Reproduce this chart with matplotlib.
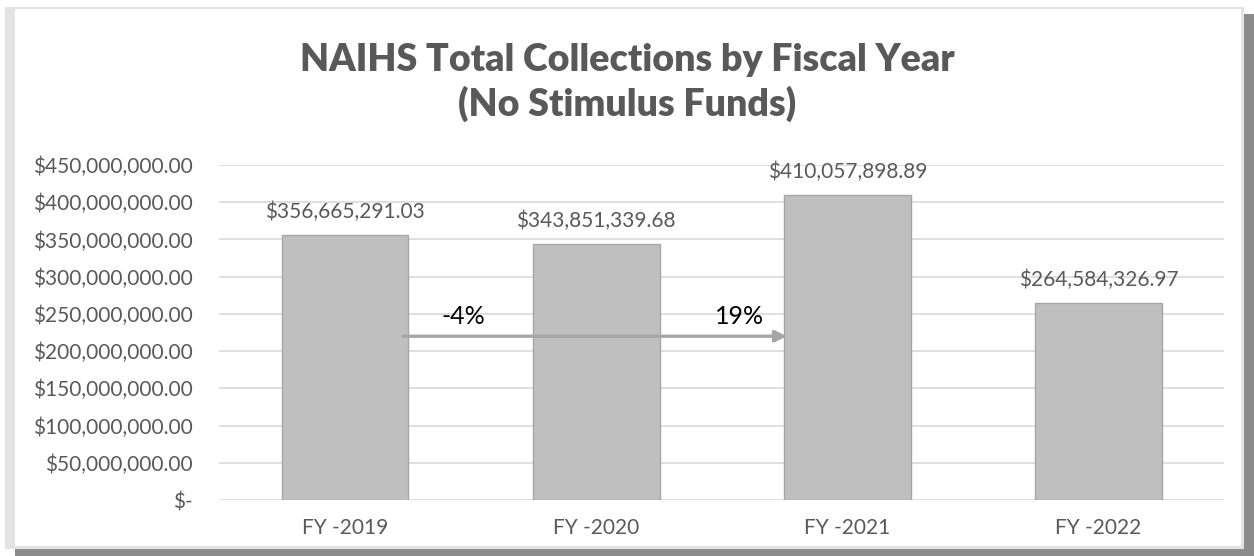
import matplotlib.pyplot as plt
from matplotlib.patches import Rectangle, FancyArrowPatch
from matplotlib.ticker import FuncFormatter

years = ['FY -2019', 'FY -2020', 'FY -2021', 'FY -2022']
collections = [356665291.03, 343851339.68, 410057898.89, 264584326.97]
changes = ['-4%', '19%']

plt.rcParams['font.family'] = ['Lato', 'DejaVu Sans']
text_grey = '#595959'

fig = plt.figure(figsize=(12.54, 5.56), dpi=100)

# chart frame: light edge top/left, darker shadow right/bottom
fig.patches.append(Rectangle((0.012, 0.0), 0.988, 0.975, transform=fig.transFigure,
                             facecolor='#8c8c8c', edgecolor='none', zorder=-4))
fig.patches.append(Rectangle((0.004, 0.012), 0.988, 0.976, transform=fig.transFigure,
                             facecolor='#e3e3e3', edgecolor='none', zorder=-3))
fig.patches.append(Rectangle((0.012, 0.018), 0.978, 0.966, transform=fig.transFigure,
                             facecolor='white', edgecolor='none', zorder=-2))

ax = fig.add_axes([0.175, 0.1007, 0.801, 0.6025])
ax.set_facecolor('none')
x = range(len(years))
bars = ax.bar(x, collections, width=0.505, color='#bfbfbf', edgecolor='#a6a6a6',
              linewidth=1.0, zorder=3)

ax.set_xlim(-0.5, len(years) - 0.5)
ax.set_ylim(0, 450000000)
ax.set_yticks(range(0, 450000001, 50000000))

def money(v, pos):
    if v == 0:
        return '$-'
    return '${:,.2f}'.format(v)

ax.yaxis.set_major_formatter(FuncFormatter(money))
ax.set_xticks(list(x))
ax.set_xticklabels(years)
ax.tick_params(axis='both', length=0, labelsize=15, colors=text_grey)
ax.tick_params(axis='y', pad=19)
ax.tick_params(axis='x', pad=13)
ax.grid(axis='y', color='#d9d9d9', lw=1.2, zorder=0)
for s in ax.spines.values():
    s.set_visible(False)

for b, v in zip(bars, collections):
    ax.annotate('${:,.2f}'.format(v), (b.get_x() + b.get_width() / 2, v),
                xytext=(0, 9), textcoords='offset points', ha='center', va='bottom',
                fontsize=15, color=text_grey)

# growth arrow from FY-2019 towards FY-2021
arrow_y = 220000000
ax.add_patch(FancyArrowPatch((0.22, arrow_y), (1.77, arrow_y), arrowstyle='-|>',
                             mutation_scale=17, color='#a6a6a6', lw=2.4, zorder=4))
ax.text(0.47, arrow_y + 11000000, changes[0], fontsize=18, color='black', ha='center', va='bottom')
ax.text(1.57, arrow_y + 11000000, changes[1], fontsize=18, color='black', ha='center', va='bottom')

fig.text(0.5, 0.852, 'NAIHS Total Collections by Fiscal Year\n(No Stimulus Funds)',
         ha='center', va='center', fontsize=27, fontweight='heavy', color=text_grey,
         linespacing=1.27)

fig.savefig('out.png', dpi=100)
